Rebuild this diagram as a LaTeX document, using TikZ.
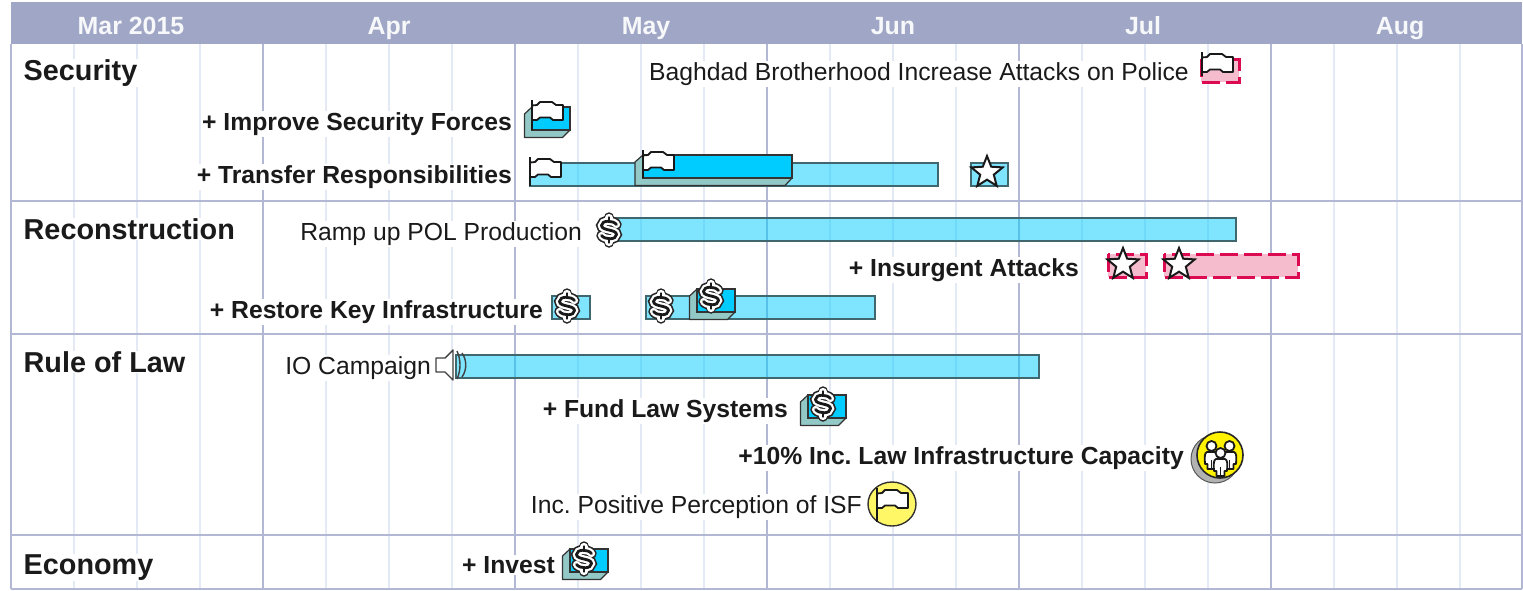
\documentclass[tikz,border=0pt]{standalone}
\usepackage{fontspec}
\setmainfont{Liberation Sans}
\frenchspacing
\usetikzlibrary{shapes.geometric}
\definecolor{headbg}{HTML}{A0A6C6}
\definecolor{majorline}{HTML}{B2B7D3}
\definecolor{minorline}{HTML}{E3E9F5}
\definecolor{barlight}{HTML}{00CCFF}
\definecolor{bardark}{HTML}{00CCFF}
\definecolor{barside}{HTML}{92C8C6}
\definecolor{baredge}{HTML}{40666E}
\definecolor{riskfill}{HTML}{F4BCCC}
\definecolor{riskline}{HTML}{DC0A50}
\definecolor{inktext}{HTML}{1A1A1A}
\tikzset{
  x=1pt,y=-1pt,
  minorgrid/.style={draw=minorline,line width=1.6pt},
  majorgrid/.style={draw=majorline,line width=1.7pt},
  headlabel/.style={text=white!92!headbg,font=\fontsize{24.9}{28}\bfseries\selectfont,anchor=center,inner sep=0pt,text height=18pt,text depth=0pt},
  seclabel/.style={text=inktext,font=\fontsize{28.8}{32}\bfseries\selectfont,anchor=base west,fill=white,inner sep=0.5pt},
  boldlabel/.style={text=inktext,font=\fontsize{24.7}{28}\bfseries\selectfont,anchor=east,fill=white,inner sep=1pt},
  plainlabel/.style={text=inktext,font=\fontsize{24.7}{28}\selectfont,anchor=east,fill=white,inner sep=1pt},
  lightbar/.style={fill=barlight,fill opacity=.5,draw=baredge,draw opacity=1,line width=1.3pt},
  riskbar/.style={fill=riskfill,draw=riskline,line width=3pt,dash pattern=on 18pt off 6pt},
  iconline/.style={draw=black!90,line width=1.8pt,line join=round},
  starmark/.style={star,star points=5,star point ratio=2.3,minimum size=33pt,inner sep=0pt,fill=white,draw=black!90,line width=2pt},
  pics/flagicon/.style n args={2}{code={
    \draw[iconline,fill=white] (0,3.5)--(5,3)--(8,0)--(20,0)--(24,3)--(31,3)--(31,18)--(21,18)--(18,15.5)--(8,15.5)--(5,18)--(0,18)--cycle;
    \draw[iconline,line width=2pt] (0,#1)--(0,#2);
  }},
  pics/dollaricon/.style={code={
    \foreach \wd/\co in {10.5/black!85,7.2/white,2.8/black!90}{
      \draw[line width=\wd pt,draw=\co,line cap=round] (0,-12.5)--(0,-8.5);
      \draw[line width=\wd pt,draw=\co,line cap=round] (0,8.5)--(0,12.5);
      \draw[line width=\wd pt,draw=\co,line cap=round] (7.5,-5.5) .. controls (4,-10) and (-7.5,-10) .. (-7.5,-4.5) .. controls (-7.5,1) and (7.5,-1) .. (7.5,4.5) .. controls (7.5,10) and (-4,10) .. (-7.5,5.5);
    }
  }},
  pics/boxicon/.style={code={
    \fill[barside,draw=black!80,line width=1.2pt,line join=round] (0,0)--(-7.5,7)--(-7.5,30.5)--(30.5,30.5)--(38,23)--(0,23)--cycle;
    \draw[fill=bardark,draw=black!80,line width=1.3pt] (0,0) rectangle (38,23);
  }},
  pics/persons/.style={code={
    \foreach \px/\py in {-8.5/-9,9.5/-9,0.5/-2}{
      \draw[iconline,fill=white] (\px-4.5,\py+6)--(\px+4.5,\py+6) .. controls (\px+7,\py+7) and (\px+7,\py+10) .. (\px+6.5,\py+18) --(\px+4,\py+18)--(\px+4,\py+23)--(\px-4,\py+23)--(\px-4,\py+18)--(\px-6.5,\py+18) .. controls (\px-7,\py+10) and (\px-7,\py+7) .. (\px-4.5,\py+6)--cycle;
      \draw[iconline,fill=white] (\px,\py) circle[radius=5];
      \draw[iconline,line width=1.2pt] (\px,\py+14)--(\px,\py+23);
    }
  }},
}
\begin{document}
\begin{tikzpicture}
\useasboundingbox (0,0) rectangle (1523,590);
\fill[white] (0,0) rectangle (1523,590);
% grid
\foreach \gx in {74,137,200,326,389,452,578,641,704,830,893,956,1082,1145,1208,1334,1397,1460}
  \draw[minorgrid] (\gx,44)--(\gx,589);
\foreach \gx in {11,263,515,767,1019,1271,1522}
  \draw[majorgrid] (\gx,44)--(\gx,589);
\foreach \gy in {201,334,535,589}
  \draw[majorgrid] (11,\gy)--(1522,\gy);
\fill[headbg] (11,2) rectangle (1522,44);
\node[headlabel] (mMar) at (131,25) {Mar 2015};
\node[headlabel] (mApr) at (389,25) {Apr};
\node[headlabel] (mMay) at (646,25) {May};
\node[headlabel] (mJun) at (893,25) {Jun};
\node[headlabel] (mJul) at (1143,25) {Jul};
\node[headlabel] (mAug) at (1400,25) {Aug};
% sections
\node[seclabel] (sSec) at (23,80.5) {Security};
\node[seclabel] (sRec) at (23,239) {Reconstruction};
\node[seclabel] (sLaw) at (23,372) {Rule of Law};
\node[seclabel] (sEco) at (23,574.5) {Economy};
% labels
\node[plainlabel] (tBag) at (1190,74) {Baghdad Brotherhood Increase Attacks on Police};
\node[boldlabel] (tImp) at (513,124) {+ Improve Security Forces};
\node[boldlabel] (tTra) at (513,177) {+ Transfer Responsibilities};
\node[plainlabel] (tRam) at (583,234) {Ramp up POL Production};
\node[boldlabel] (tIns) at (1080,270) {+ Insurgent Attacks};
\node[boldlabel] (tRes) at (544,312) {+ Restore Key Infrastructure};
\node[plainlabel] (tIOc) at (432,368) {IO Campaign};
\node[boldlabel] (tFun) at (789,411) {+ Fund Law Systems};
\node[boldlabel] (tCap) at (1185,458) {+10\% Inc. Law Infrastructure Capacity};
\node[plainlabel] (tISF) at (863,507) {Inc. Positive Perception of ISF};
\node[boldlabel] (tInv) at (556,565) {+ Invest};
% Security
\draw[riskbar] (1201,59) rectangle (1239,82);
\pic at (1202,54) {flagicon={-2}{22}};
\pic at (532,107) {boxicon};
\pic at (532,102) {flagicon={-2}{28}};
\draw[lightbar] (530,163) rectangle (938,186);
\pic at (530,159) {flagicon={-2}{27}};
\fill[barside,draw=black!80,line width=1.2pt,line join=round] (643,155)--(635,162)--(635,185.5)--(785,185.5)--(792,178)--(643,178)--cycle;
\draw[fill=bardark,draw=black!80,line width=1.3pt] (643,155) rectangle (792,178);
\pic at (643,152) {flagicon={-2}{26}};
\draw[lightbar] (971,163) rectangle (1008,186);
\node[starmark] (sA) at (987,172.5) {};
% Reconstruction
\draw[lightbar] (610,218) rectangle (1236,241);
\pic at (609,230) {dollaricon};
\draw[riskbar] (1108,254) rectangle (1146,277);
\node[starmark] (sB) at (1123,264.5) {};
\draw[riskbar] (1164,254) rectangle (1298,277);
\node[starmark] (sC) at (1179,264.5) {};
\draw[lightbar] (552,296) rectangle (590,319);
\pic at (567,306) {dollaricon};
\draw[lightbar] (646,296) rectangle (875,319);
\pic at (661,306) {dollaricon};
\pic at (697,289) {boxicon};
\pic at (711,296) {dollaricon};
% Rule of Law
\draw[lightbar] (456,355) rectangle (1039,378);
\draw[draw=black!75,line width=1.4pt,fill=white,line join=round] (436,358)--(445,358)--(453,350)--(453,380)--(445,372)--(436,372)--cycle;
\draw[draw=black!75,line width=1.4pt] (457,351) .. controls (461,360) and (461,370) .. (457,379);
\draw[draw=black!75,line width=1.4pt] (462,353) .. controls (467,360) and (467,370) .. (462,377);
\pic at (808,395) {boxicon};
\pic at (823,404) {dollaricon};
\fill[black!30,draw=black!65,line width=1pt] (1215,459) circle[radius=24];
\draw[fill=yellow,draw=black!85,line width=1.6pt] (1220,455) circle[radius=23];
\pic at (1220,455) {persons};
\draw[fill=yellow!60,draw=black!80,line width=1.4pt] (892,504) ellipse[x radius=24,y radius=22];
\pic at (877,490) {flagicon={-2}{32}};
% Economy
\pic at (570,549) {boxicon};
\pic at (584,559) {dollaricon};
\end{tikzpicture}
\end{document}
